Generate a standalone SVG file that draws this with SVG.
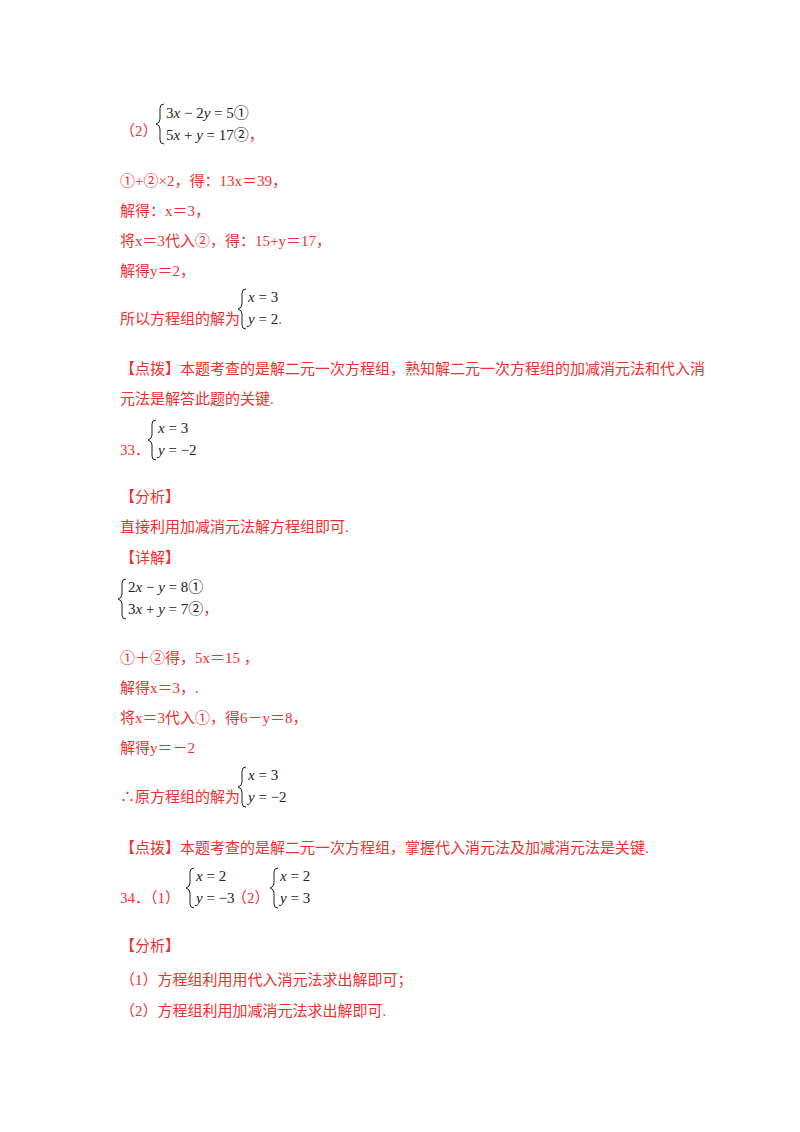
<svg xmlns="http://www.w3.org/2000/svg" width="800" height="1132" viewBox="0 0 800 1132">
<style>
.r{font-family:"Liberation Serif","Noto Sans CJK SC",serif;font-size:15px;fill:#f03030}
.m{font-family:"Liberation Serif","Noto Sans CJK SC",serif;font-size:15px;fill:#222}
.i{font-style:italic}
.b{fill:none;stroke:#222;stroke-width:1}
</style>
<rect width="800" height="1132" fill="#fff"/>
<text class="r" x="120" y="136">（2）</text>
<path class="b" d="M164,104 q-4,0 -4,4 v11 q0,4 -4,5 q4,1 4,5 v11 q0,4 4,4"/>
<text class="m" x="166" y="118">3<tspan class="i">x</tspan> − 2<tspan class="i">y</tspan> = 5①</text>
<text class="m" x="166" y="140">5<tspan class="i">x</tspan> + <tspan class="i">y</tspan> = 17②<tspan class="r">，</tspan></text>
<text class="r" x="120" y="186">①+②×2，得：13x＝39，</text>
<text class="r" x="120" y="216">解得：x＝3，</text>
<text class="r" x="120" y="246">将x＝3代入②，得：15+y＝17，</text>
<text class="r" x="120" y="276">解得y＝2，</text>
<text class="r" x="120" y="324">所以方程组的解为</text>
<path class="b" d="M246,289 q-4,0 -4,4 v11 q0,4 -4,5 q4,1 4,5 v11 q0,4 4,4"/>
<text class="m" x="248" y="302"><tspan class="i">x</tspan> = 3</text>
<text class="m" x="248" y="324"><tspan class="i">y</tspan> = 2<tspan class="r">.</tspan></text>
<text class="r" x="120" y="374">【点拨】本题考查的是解二元一次方程组，熟知解二元一次方程组的加减消元法和代入消</text>
<text class="r" x="120" y="404">元法是解答此题的关键.</text>
<text class="r" x="120" y="455">33．</text>
<path class="b" d="M156,420 q-4,0 -4,4 v11 q0,4 -4,5 q4,1 4,5 v11 q0,4 4,4"/>
<text class="m" x="158" y="433"><tspan class="i">x</tspan> = 3</text>
<text class="m" x="158" y="455"><tspan class="i">y</tspan> = −2</text>
<text class="r" x="120" y="502">【分析】</text>
<text class="r" x="120" y="532">直接利用加减消元法解方程组即可.</text>
<text class="r" x="120" y="563">【详解】</text>
<path class="b" d="M126,579 q-4,0 -4,4 v11 q0,4 -4,5 q4,1 4,5 v11 q0,4 4,4"/>
<text class="m" x="128" y="592">2<tspan class="i">x</tspan> − <tspan class="i">y</tspan> = 8①</text>
<text class="m" x="128" y="614">3<tspan class="i">x</tspan> + <tspan class="i">y</tspan> = 7②<tspan class="r">，</tspan></text>
<text class="r" x="120" y="663">①＋②得，5x＝15 ，</text>
<text class="r" x="120" y="693">解得x＝3，.</text>
<text class="r" x="120" y="723">将x＝3代入①，得6－y＝8，</text>
<text class="r" x="120" y="753">解得y＝－2</text>
<text class="r" x="120" y="802">∴原方程组的解为</text>
<path class="b" d="M246,767 q-4,0 -4,4 v11 q0,4 -4,5 q4,1 4,5 v11 q0,4 4,4"/>
<text class="m" x="248" y="780"><tspan class="i">x</tspan> = 3</text>
<text class="m" x="248" y="802"><tspan class="i">y</tspan> = −2</text>
<text class="r" x="120" y="853">【点拨】本题考查的是解二元一次方程组，掌握代入消元法及加减消元法是关键.</text>
<text class="r" x="120" y="903">34．（1）</text>
<path class="b" d="M194,868 q-4,0 -4,4 v11 q0,4 -4,5 q4,1 4,5 v11 q0,4 4,4"/>
<text class="m" x="196" y="881"><tspan class="i">x</tspan> = 2</text>
<text class="m" x="196" y="903"><tspan class="i">y</tspan> = −3</text>
<text class="r" x="232" y="903">（2）</text>
<path class="b" d="M278,868 q-4,0 -4,4 v11 q0,4 -4,5 q4,1 4,5 v11 q0,4 4,4"/>
<text class="m" x="280" y="881"><tspan class="i">x</tspan> = 2</text>
<text class="m" x="280" y="903"><tspan class="i">y</tspan> = 3</text>
<text class="r" x="120" y="951">【分析】</text>
<text class="r" x="120" y="985">（1）方程组利用用代入消元法求出解即可；</text>
<text class="r" x="120" y="1016">（2）方程组利用加减消元法求出解即可.</text>
</svg>
